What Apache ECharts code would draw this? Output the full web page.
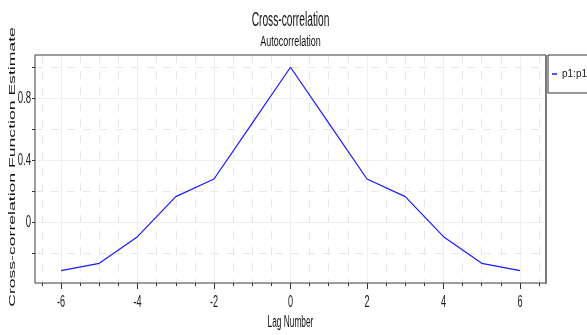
<!DOCTYPE html>
<html>
<head>
<meta charset="utf-8">
<script src="https://cdn.jsdelivr.net/npm/echarts@6/dist/echarts.min.js"></script>
<style>
  html, body { margin: 0; padding: 0; background: #fff; }
  #chart { width: 587px; height: 335px; }
</style>
</head>
<body>
<div id="chart"></div>
<script>
// Lag numbers and the autocorrelation estimate at each lag
const lags = [-6, -5, -4, -3, -2, -1, 0, 1, 2, 3, 4, 5, 6];
const acf = [-0.312, -0.265, -0.093, 0.165, 0.279, 0.64, 1.0, 0.64, 0.279, 0.165, -0.093, -0.265, -0.312];

// Tick labels
const xTickLabels = [-6, -4, -2, 0, 2, 4, 6];
const yTickLabels = [0, 0.4, 0.8];
const xMinorStep = 0.5;
const yMinorStep = 0.2;

const seriesName = 'p1:p1';
const titleText = 'Cross-correlation';
const subtitleText = 'Autocorrelation';
const xName = 'Lag Number';
const yName = 'Cross-correlation Function Estimate';

// Axis ranges of the plotting frame
const X_MIN = -6.68, X_MAX = 6.68;
const Y_MIN = -0.392, Y_MAX = 1.079;

const PLOT = { left: 35, top: 55, width: 511, height: 228 };
const SANS = '"Liberation Sans", Arial, sans-serif';

// pixel helpers used only to lay out the tick grids
function px(v) { return PLOT.left + (v - X_MIN) / (X_MAX - X_MIN) * PLOT.width; }
function py(v) { return PLOT.top + (Y_MAX - v) / (Y_MAX - Y_MIN) * PLOT.height; }

const xMajorStep = xTickLabels[1] - xTickLabels[0];
const yMajorStep = +(yTickLabels[1] - yTickLabels[0]).toFixed(6);
const xLo = xTickLabels[0], xHi = xTickLabels[xTickLabels.length - 1];
const xMinorLo = xLo - xMinorStep, xMinorHi = xHi + xMinorStep;
const yLo = yTickLabels[0], yHi = yTickLabels[yTickLabels.length - 1];
const yMinorLo = -yMinorStep, yMinorHi = 1.0;

const gridSolid = '#efefef';
const gridDash = '#e6e6e6';
const tickColor = '#333';

const chart = echarts.init(document.getElementById('chart'));

// static decorations: frame, titles, axis names
const decorations = [
  {
    id: 'frame', type: 'rect', z: 100, silent: true,
    shape: { x: PLOT.left, y: PLOT.top, width: PLOT.width, height: PLOT.height },
    style: { fill: null, stroke: '#3a3a3a', lineWidth: 1 }
  },
  {
    id: 'frameRight', type: 'line', z: 101, silent: true,
    shape: { x1: PLOT.left + PLOT.width, y1: PLOT.top, x2: PLOT.left + PLOT.width, y2: PLOT.top + PLOT.height + 1 },
    style: { stroke: '#7a7a7a', lineWidth: 2 }
  },
  {
    id: 'title', type: 'text', x: PLOT.left + PLOT.width / 2, y: 20, scaleX: 0.51,
    style: { text: titleText, font: '20px ' + SANS, fill: '#111', align: 'center', verticalAlign: 'middle' }
  },
  {
    id: 'subtitle', type: 'text', x: PLOT.left + PLOT.width / 2, y: 42, scaleX: 0.64,
    style: { text: subtitleText, font: '14px ' + SANS, fill: '#111', align: 'center', verticalAlign: 'middle' }
  },
  {
    id: 'xName', type: 'text', x: PLOT.left + PLOT.width / 2, y: 323, scaleX: 0.52,
    style: { text: xName, font: '16px ' + SANS, fill: '#111', align: 'center', verticalAlign: 'middle' }
  },
  {
    id: 'yName', type: 'text', x: 12, y: PLOT.top + PLOT.height / 2 - 2, rotation: Math.PI / 2, scaleY: 0.55,
    style: { text: yName, font: '17.6px ' + SANS, fill: '#111', align: 'center', verticalAlign: 'middle' }
  }
];

chart.setOption({
  animation: false,
  backgroundColor: '#fff',
  grid: [
    // main plotting frame
    { left: PLOT.left, top: PLOT.top, width: PLOT.width, height: PLOT.height },
    // half-unit lag ticks and dashed verticals
    { left: px(xMinorLo), top: PLOT.top, width: px(xMinorHi) - px(xMinorLo), height: PLOT.height },
    // labelled lag ticks and solid verticals
    { left: px(xLo), top: PLOT.top, width: px(xHi) - px(xLo), height: PLOT.height },
    // minor value ticks and dashed horizontals
    { left: PLOT.left, top: py(yMinorHi), width: PLOT.width, height: py(yMinorLo) - py(yMinorHi) },
    // labelled value ticks and solid horizontals
    { left: PLOT.left, top: py(yHi), width: PLOT.width, height: py(yLo) - py(yHi) }
  ],
  xAxis: [
    { gridIndex: 0, type: 'value', min: X_MIN, max: X_MAX, show: false },
    {
      gridIndex: 1, type: 'value', min: xMinorLo, max: xMinorHi, interval: xMinorStep,
      axisLine: { show: false },
      axisTick: { show: true, length: 3, lineStyle: { color: tickColor, width: 1 } },
      axisLabel: { show: false },
      splitLine: { show: true, lineStyle: { color: gridDash, width: 1, type: [8, 8] } }
    },
    {
      gridIndex: 2, type: 'value', min: xLo, max: xHi, interval: xMajorStep,
      axisLine: { show: false },
      axisTick: { show: true, length: 6, lineStyle: { color: tickColor, width: 1 } },
      axisLabel: { show: false },
      splitLine: { show: true, lineStyle: { color: gridSolid, width: 1 } }
    },
    { gridIndex: 3, type: 'value', min: 0, max: 1, show: false },
    { gridIndex: 4, type: 'value', min: 0, max: 1, show: false }
  ],
  yAxis: [
    { gridIndex: 0, type: 'value', min: Y_MIN, max: Y_MAX, show: false },
    { gridIndex: 1, type: 'value', min: 0, max: 1, show: false },
    { gridIndex: 2, type: 'value', min: 0, max: 1, show: false },
    {
      gridIndex: 3, type: 'value', min: yMinorLo, max: yMinorHi, interval: yMinorStep,
      axisLine: { show: false },
      axisTick: { show: true, length: 3, lineStyle: { color: tickColor, width: 1 } },
      axisLabel: { show: false },
      splitLine: { show: true, lineStyle: { color: gridDash, width: 1, type: [8, 8] } }
    },
    {
      gridIndex: 4, type: 'value', min: yLo, max: yHi, interval: yMajorStep,
      axisLine: { show: false },
      axisTick: { show: true, length: 3, lineStyle: { color: tickColor, width: 1 } },
      axisLabel: { show: false },
      splitLine: { show: true, lineStyle: { color: gridSolid, width: 1 } }
    }
  ],
  legend: {
    data: [seriesName],
    left: 548, top: 55,
    orient: 'vertical',
    padding: [12, 40, 12, 4],
    borderColor: '#333', borderWidth: 1,
    backgroundColor: '#fff',
    icon: 'rect', itemWidth: 5, itemHeight: 1.5,
    textStyle: { fontFamily: SANS, fontSize: 10, color: '#1a1a1a', lineHeight: 14 }
  },
  graphic: decorations,
  series: [
    {
      name: seriesName,
      type: 'line',
      xAxisIndex: 0, yAxisIndex: 0,
      data: lags.map((l, i) => [l, acf[i]]),
      showSymbol: false,
      color: '#1a1aff',
      lineStyle: { color: '#1a1aff', width: 1.2 },
      z: 5
    }
  ]
});

// condensed tick labels, placed through the axes' own scales
const tickTexts = [];
xTickLabels.forEach((v, i) => {
  const x = chart.convertToPixel({ xAxisIndex: 0 }, v);
  tickTexts.push({
    id: 'xtick' + i, type: 'text', x: x, y: 302, scaleX: 0.55,
    style: { text: String(v), font: '16.5px ' + SANS, fill: '#1a1a1a', align: 'center', verticalAlign: 'middle' }
  });
});
yTickLabels.forEach((v, i) => {
  const y = chart.convertToPixel({ yAxisIndex: 0 }, v);
  tickTexts.push({
    id: 'ytick' + i, type: 'text', x: 31, y: y, scaleX: 0.6,
    style: { text: String(v), font: '16px ' + SANS, fill: '#1a1a1a', align: 'right', verticalAlign: 'middle' }
  });
});
chart.setOption({ graphic: decorations.concat(tickTexts) });
</script>
</body>
</html>
